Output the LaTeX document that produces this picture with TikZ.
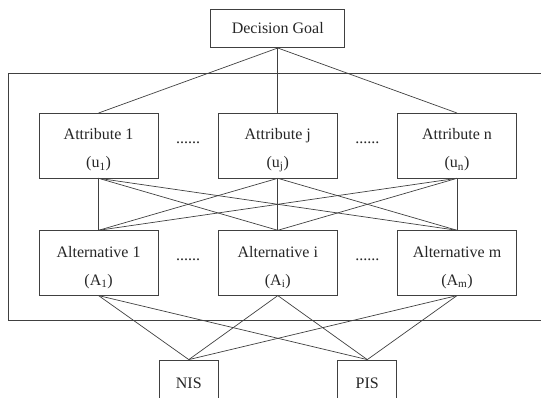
\documentclass[tikz,border=0pt]{standalone}
\usepackage{fontspec}
\setmainfont{Liberation Serif}
\usetikzlibrary{positioning}
\tikzstyle{box} = [rectangle, draw=black!75, line width=0.7pt, text=black!85,
align=center, font=\fontsize{16}{28}\selectfont, inner sep=0pt]
\tikzstyle{goal} = [box, minimum width=134pt, minimum height=38.7pt]
\tikzstyle{crit} = [box, minimum width=119pt, minimum height=64.6pt]
\tikzstyle{ideal} = [box, minimum width=59pt, minimum height=46pt]
\tikzstyle{const} = [rectangle, inner sep=0pt, text=black!85,
font=\fontsize{16}{16}\selectfont]
\tikzstyle{link} = [draw=black!75, line width=0.7pt]
\newcommand{\twoline}[2]{\rule{0pt}{20pt}#1\\#2}
\newcommand{\edge}[3][]{ %
  % Connect all nodes #2 to all nodes #3.
  \foreach \x in {#2} { %
    \foreach \y in {#3} { %
      \path[link] (\x) edge [#1] (\y) ;%
    } ;
  } ;
}

\begin{document}
\begin{tikzpicture}[x=1pt,y=1pt]
				\useasboundingbox (0,0) rectangle (541,-398);
				\draw[link] (548,-73.3) -- (8.6,-73.3) -- (8.6,-320) -- (548,-320);

				\node[goal] (goal) at (277.8,-28.3) {Decision Goal} ; %

				\node[crit, below=65pt of goal] (aj) {\twoline{Attribute j}{(u\textsubscript{j})}} ; %
				\node[crit, left=59.5pt of aj] (a1) {\twoline{Attribute 1}{(u\textsubscript{1})}} ; %
				\node[crit, right=59.5pt of aj] (an) {\twoline{Attribute n}{(u\textsubscript{n})}} ; %

				\node[crit, below=52pt of aj] (xi) {\twoline{Alternative i}{(A\textsubscript{i})}} ; %
				\node[crit, below=52pt of a1] (x1) {\twoline{Alternative 1}{(A\textsubscript{1})}} ; %
				\node[crit, below=52pt of an] (xm) {\twoline{Alternative m}{(A\textsubscript{m})}} ; %

				\node[ideal, below=64pt of xi, xshift=-89pt] (nis) {NIS} ; %
				\node[ideal, below=64pt of xi, xshift=89.5pt] (pis) {PIS} ; %

				\path (a1) -- (aj) node[const, midway, yshift=3pt] {......};
				\path (aj) -- (an) node[const, midway, yshift=3pt] {......};
				\path (x1) -- (xi) node[const, midway, yshift=3pt] {......};
				\path (xi) -- (xm) node[const, midway, yshift=3pt] {......};

				\edge[-] {goal.south} {a1.north,aj.north,an.north};
				\edge[-] {a1.south,aj.south,an.south} {x1.north,xi.north,xm.north};
				\edge[-] {x1.south,xi.south,xm.south} {nis.north,pis.north};
				\end{tikzpicture}
\end{document}
